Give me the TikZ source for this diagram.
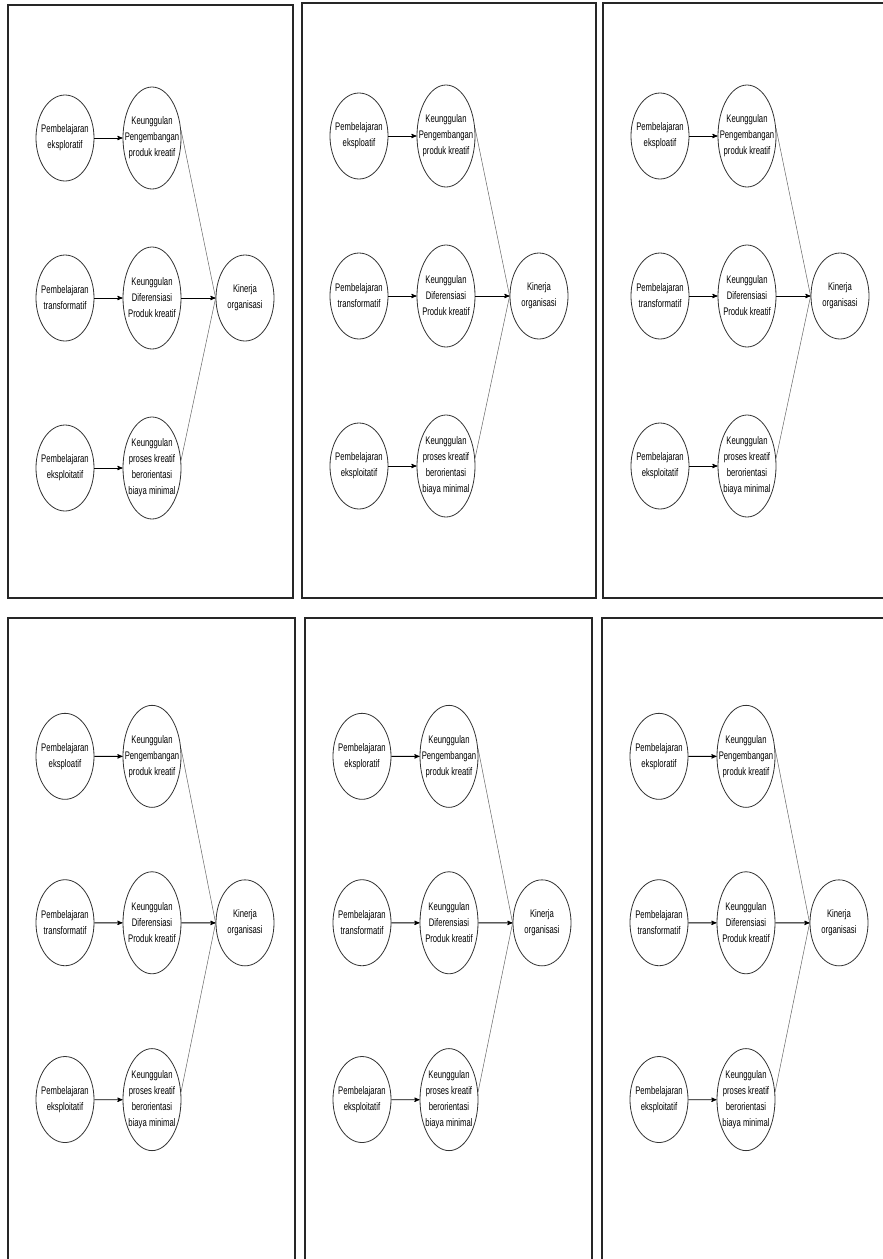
\documentclass[tikz,border=0pt]{standalone}
\usepackage{fontspec}
\newfontfamily\narrowsans{Liberation Sans}[FakeStretch=0.7]
\usepackage{tikz}
\usetikzlibrary{shapes.geometric, positioning, arrows}

\begin{document}
\begin{tikzpicture}[x=1pt,y=-1pt,->,>=stealth',node distance=87pt,
    var/.style={ellipse,draw=black!80,line width=0.8pt,minimum width=58pt,minimum height=86pt,
      inner xsep=-10pt,inner ysep=0pt,align=center,font=\narrowsans\fontsize{11}{16}\selectfont},
    adv/.style={var,minimum height=102pt},
    frame/.style={draw=black!85,line width=1.8pt,-},
    link/.style={-,draw=black!60,line width=0.5pt}]
  \useasboundingbox (0,0) rectangle (883,1259);
  \clip (0,0) rectangle (883,1259);
  \foreach \p/\ox/\oy/\fw/\fh/\s/\w in {1/8/5/285/593/1/eksploratif,
      2/302/3/294/595/1/eksploatif, 3/603/3/300/595/1/eksploatif,
      4/8/618/287/660/1.04/eksploatif, 5/305/618/287/660/1.04/eksploratif,
      6/602/618/300/660/1.04/eksploratif}
  {
    \draw[frame] (\ox,\oy) rectangle ++(\fw,\fh);
    \begin{scope}[shift={(\ox,\oy)},yscale=\s]
      \node[var] (a1-\p) at (57,133) {Pembelajaran\\\w};
      \node[adv] (b1-\p) [right of=a1-\p] {Keunggulan\\Pengembangan\\produk kreatif};
      \node[var] (a2-\p) at (57,293) {Pembelajaran\\transformatif};
      \node[adv] (b2-\p) [right of=a2-\p] {Keunggulan\\Diferensiasi\\Produk kreatif};
      \node[var] (c-\p) [right of=b2-\p,node distance=93pt] {Kinerja\\organisasi};
      \node[var] (a3-\p) at (57,463) {Pembelajaran\\eksploitatif};
      \node[adv] (b3-\p) [right of=a3-\p] {Keunggulan\\proses kreatif\\berorientasi\\biaya minimal};

      \path[line width=0.9pt] (a1-\p) edge (b1-\p)
            (a2-\p) edge (b2-\p)
            (a3-\p) edge (b3-\p)
            (b2-\p) edge (c-\p);
      \draw[link] (b1-\p.15) -- (c-\p.west);
      \draw[link] (b3-\p.15) -- (c-\p.west);
    \end{scope}
  }
\end{tikzpicture}
\end{document}
